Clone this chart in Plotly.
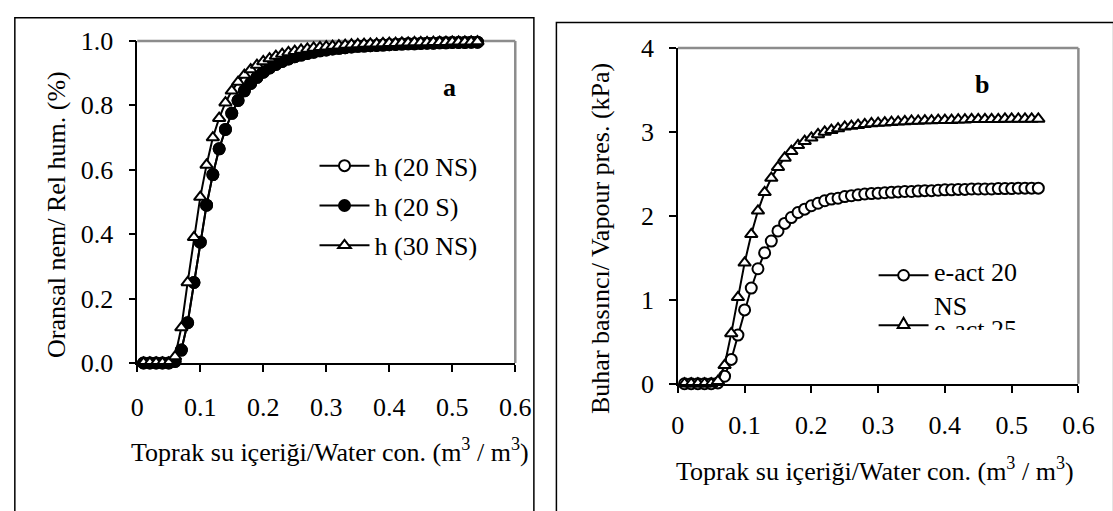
import plotly.graph_objects as go

# ---------------- data ----------------
water = [0.01, 0.02, 0.03, 0.04, 0.05, 0.06, 0.07, 0.08, 0.09, 0.10,
         0.11, 0.12, 0.13, 0.14, 0.15, 0.16, 0.17, 0.18, 0.19, 0.20,
         0.21, 0.22, 0.23, 0.24, 0.25, 0.26, 0.27, 0.28, 0.29, 0.30,
         0.31, 0.32, 0.33, 0.34, 0.35, 0.36, 0.37, 0.38, 0.39, 0.40,
         0.41, 0.42, 0.43, 0.44, 0.45, 0.46, 0.47, 0.48, 0.49, 0.50,
         0.51, 0.52, 0.53, 0.54]

h_20NS = [0, 0, 0, 0, 0, 0.005, 0.04, 0.125, 0.25, 0.375,
          0.49, 0.585, 0.665, 0.725, 0.775, 0.815, 0.845, 0.868, 0.887, 0.903,
          0.916, 0.927, 0.936, 0.944, 0.951, 0.956, 0.961, 0.965, 0.969, 0.972,
          0.975, 0.977, 0.979, 0.981, 0.983, 0.984, 0.985, 0.986, 0.987, 0.988,
          0.989, 0.990, 0.991, 0.991, 0.992, 0.993, 0.993, 0.994, 0.994, 0.995,
          0.995, 0.995, 0.996, 0.996]

h_20S = [0, 0, 0, 0, 0, 0.005, 0.04, 0.125, 0.25, 0.375,
         0.49, 0.585, 0.665, 0.725, 0.775, 0.815, 0.845, 0.868, 0.887, 0.903,
         0.916, 0.927, 0.936, 0.944, 0.951, 0.956, 0.961, 0.965, 0.969, 0.972,
         0.975, 0.977, 0.979, 0.981, 0.983, 0.984, 0.985, 0.986, 0.987, 0.988,
         0.989, 0.990, 0.991, 0.991, 0.992, 0.993, 0.993, 0.994, 0.994, 0.995,
         0.995, 0.995, 0.996, 0.996]

h_30NS = [0, 0, 0, 0, 0, 0.02, 0.11, 0.25, 0.39, 0.515,
          0.615, 0.70, 0.76, 0.808, 0.845, 0.872, 0.894, 0.911, 0.925, 0.936,
          0.945, 0.953, 0.959, 0.964, 0.968, 0.972, 0.975, 0.978, 0.980, 0.982,
          0.984, 0.985, 0.987, 0.988, 0.989, 0.990, 0.991, 0.991, 0.992, 0.993,
          0.993, 0.994, 0.994, 0.995, 0.995, 0.995, 0.996, 0.996, 0.996, 0.997,
          0.997, 0.997, 0.997, 0.998]

e_act_20NS = [0, 0, 0, 0, 0, 0.01, 0.09, 0.29, 0.58, 0.88,
              1.14, 1.37, 1.56, 1.70, 1.82, 1.91, 1.98, 2.04, 2.08, 2.12,
              2.15, 2.18, 2.20, 2.21, 2.23, 2.24, 2.25, 2.26, 2.265, 2.27,
              2.275, 2.28, 2.285, 2.29, 2.29, 2.295, 2.30, 2.30, 2.305, 2.31,
              2.31, 2.315, 2.315, 2.32, 2.32, 2.32, 2.32, 2.325, 2.325, 2.325,
              2.33, 2.33, 2.33, 2.33]

e_act_25 = [0, 0, 0, 0, 0, 0.03, 0.22, 0.60, 1.03, 1.44,
            1.78, 2.06, 2.28, 2.45, 2.58, 2.69, 2.77, 2.84, 2.89, 2.93,
            2.97, 3.00, 3.02, 3.04, 3.06, 3.07, 3.08, 3.09, 3.10, 3.105,
            3.11, 3.115, 3.12, 3.125, 3.13, 3.13, 3.135, 3.135, 3.14, 3.14,
            3.14, 3.145, 3.145, 3.15, 3.15, 3.15, 3.15, 3.15, 3.155, 3.155,
            3.155, 3.155, 3.155, 3.155]

x_ticks = [0, 0.1, 0.2, 0.3, 0.4, 0.5, 0.6]
x_ticklabels = ["0", "0.1", "0.2", "0.3", "0.4", "0.5", "0.6"]
left_yticks = [0.0, 0.2, 0.4, 0.6, 0.8, 1.0]
left_yticklabels = ["0.0", "0.2", "0.4", "0.6", "0.8", "1.0"]
right_yticks = [0, 1, 2, 3, 4]
right_yticklabels = ["0", "1", "2", "3", "4"]

x_title = "Toprak su içeriği/Water con. (m<sup>3</sup> / m<sup>3</sup>)"
left_y_title = "Oransal nem/ Rel hum. (%)"
right_y_title = "Buhar basıncı/ Vapour pres. (kPa)"
right_legend_names = ["e-act 20<br>NS", "e-act 25"]

# ---------------- figure ----------------
W, H = 1113, 511
FONT = "Liberation Serif"
FS = 26


def px(x):
    return x / W


def py(y):
    return 1 - y / H


fig = go.Figure()

line_style = dict(color="black", width=2)

fig.add_trace(go.Scatter(
    x=water, y=h_20NS, mode="lines+markers", name="h (20 NS)",
    line=line_style, cliponaxis=False, legend="legend", legendgroup="a1",
    marker=dict(symbol="circle", size=11, color="white", line=dict(color="black", width=2)),
    xaxis="x", yaxis="y"))
fig.add_trace(go.Scatter(
    x=water, y=h_20S, mode="lines+markers", name="h (20 S)",
    line=line_style, cliponaxis=False, legend="legend", legendgroup="a2",
    marker=dict(symbol="circle", size=11, color="black", line=dict(color="black", width=2)),
    xaxis="x", yaxis="y"))
fig.add_trace(go.Scatter(
    x=water, y=h_30NS, mode="lines+markers", name="h (30 NS)",
    line=line_style, cliponaxis=False, legend="legend", legendgroup="a3",
    marker=dict(symbol="triangle-up", size=11, color="white", line=dict(color="black", width=2)),
    xaxis="x", yaxis="y"))

fig.add_trace(go.Scatter(
    x=water, y=e_act_20NS, mode="lines+markers", name="e-act 20 NS",
    line=line_style, cliponaxis=False, showlegend=False,
    marker=dict(symbol="circle", size=11, color="white", line=dict(color="black", width=2)),
    xaxis="x2", yaxis="y2"))
fig.add_trace(go.Scatter(
    x=water, y=e_act_25, mode="lines+markers", name="e-act 25",
    line=line_style, cliponaxis=False, showlegend=False,
    marker=dict(symbol="triangle-up", size=11, color="white", line=dict(color="black", width=2)),
    xaxis="x2", yaxis="y2"))

axis_common = dict(
    showline=True, linecolor="black", linewidth=1.5,
    ticks="outside", ticklen=7, tickwidth=1.5, tickcolor="black",
    showgrid=False, zeroline=False,
    tickfont=dict(family=FONT, size=FS, color="black"),
)

fig.update_layout(
    width=W, height=H,
    margin=dict(l=0, r=0, t=0, b=0),
    paper_bgcolor="white", plot_bgcolor="white",
    font=dict(family=FONT, size=FS, color="black"),
    xaxis=dict(domain=[px(133), px(519)], range=[0, 0.6], anchor="y",
               tickvals=x_ticks, ticktext=x_ticklabels, ticklabelstandoff=13, **axis_common),
    yaxis=dict(domain=[py(370), py(28.5)], range=[0, 1.0], anchor="x",
               tickvals=left_yticks, ticktext=left_yticklabels, ticklabelstandoff=10, **axis_common),
    xaxis2=dict(domain=[px(685), px(1094)], range=[0, 0.6], anchor="y2",
                tickvals=x_ticks, ticktext=x_ticklabels, ticklabelstandoff=10, **axis_common),
    yaxis2=dict(domain=[py(392), py(36)], range=[0, 4], anchor="x2",
                tickvals=right_yticks, ticktext=right_yticklabels, ticklabelstandoff=10, **axis_common),
    legend=dict(x=px(314), y=py(136), xanchor="left", yanchor="top",
                bgcolor="rgba(0,0,0,0)", borderwidth=0, itemwidth=50,
                tracegroupgap=3,
                font=dict(family=FONT, size=FS, color="black")),
    showlegend=True,
)

shapes = []
# grey top / right frame of each plot area
for xr, yr in (("x domain", "y domain"), ("x2 domain", "y2 domain")):
    shapes.append(dict(type="line", xref=xr, yref=yr, x0=0, x1=1, y0=1, y1=1,
                       line=dict(color="#8c8c8c", width=2.5), layer="below"))
    shapes.append(dict(type="line", xref=xr, yref=yr, x0=1, x1=1, y0=0, y1=1,
                       line=dict(color="#8c8c8c", width=2.5), layer="below"))
# outer boxes around each panel
shapes.append(dict(type="rect", xref="paper", yref="paper",
                   x0=px(8), x1=px(538), y0=py(530), y1=py(4),
                   line=dict(color="black", width=1.5), fillcolor="rgba(0,0,0,0)", layer="below"))
shapes.append(dict(type="rect", xref="paper", yref="paper",
                   x0=px(561), x1=px(1130), y0=py(530), y1=py(9),
                   line=dict(color="black", width=1.5), fillcolor="rgba(0,0,0,0)", layer="below"))

# legend of panel b (drawn by hand so the last entry can be cut off as in the original)
LX0, LX1, LXC = 890, 941, 915.5
ly1, ly2 = 277, 330
shapes.append(dict(type="line", xref="paper", yref="paper",
                   x0=px(LX0), x1=px(LX1), y0=py(ly1), y1=py(ly1),
                   line=dict(color="black", width=2)))
shapes.append(dict(type="circle", xref="paper", yref="paper",
                   x0=px(LXC - 5.5), x1=px(LXC + 5.5), y0=py(ly1 + 5.5), y1=py(ly1 - 5.5),
                   line=dict(color="black", width=2), fillcolor="white"))
shapes.append(dict(type="line", xref="paper", yref="paper",
                   x0=px(LX0), x1=px(LX1), y0=py(ly2), y1=py(ly2),
                   line=dict(color="black", width=2)))
tri = "M {a},{b} L {c},{d} L {e},{b} Z".format(
    a=px(LXC - 6), b=py(333), c=px(LXC), d=py(322), e=px(LXC + 6))
shapes.append(dict(type="path", xref="paper", yref="paper", path=tri,
                   line=dict(color="black", width=2), fillcolor="white"))
fig.update_layout(shapes=shapes)

annotations = [
    dict(text="<b>a</b>", x=0.495, y=0.855, xref="x", yref="y", showarrow=False,
         font=dict(family=FONT, size=FS, color="black")),
    dict(text="<b>b</b>", x=0.455, y=3.56, xref="x2", yref="y2", showarrow=False,
         font=dict(family=FONT, size=FS, color="black")),
    dict(text=x_title, x=px(330), y=py(463), xref="paper", yref="paper",
         showarrow=False, xanchor="center", yanchor="middle",
         font=dict(family=FONT, size=FS, color="black")),
    dict(text=x_title, x=px(886), y=py(483), xref="paper", yref="paper",
         showarrow=False, xanchor="center", yanchor="middle",
         font=dict(family=FONT, size=FS, color="black")),
    dict(text=left_y_title, x=px(51), y=py(212), xref="paper", yref="paper",
         showarrow=False, textangle=-90, xanchor="center", yanchor="middle",
         font=dict(family=FONT, size=FS, color="black")),
    dict(text=right_y_title, x=px(606), y=py(238), xref="paper", yref="paper",
         showarrow=False, textangle=-90, xanchor="center", yanchor="middle",
         font=dict(family=FONT, size=FS, color="black")),
    # legend texts of panel b
    dict(text=right_legend_names[0], x=px(946), y=py(292), xref="paper", yref="paper",
         showarrow=False, xanchor="left", yanchor="middle", align="left", borderpad=0,
         font=dict(family=FONT, size=FS, color="black")),
    dict(text=right_legend_names[1], x=px(946), y=py(318), xref="paper", yref="paper",
         showarrow=False, xanchor="left", yanchor="top", align="left", valign="top",
         height=15, borderpad=0,
         font=dict(family=FONT, size=FS, color="black")),
]
fig.update_layout(annotations=annotations)

fig.write_html("out.html",
               config={"displayModeBar": False},
               post_script="document.body.style.margin='0';document.body.style.padding='0';")
